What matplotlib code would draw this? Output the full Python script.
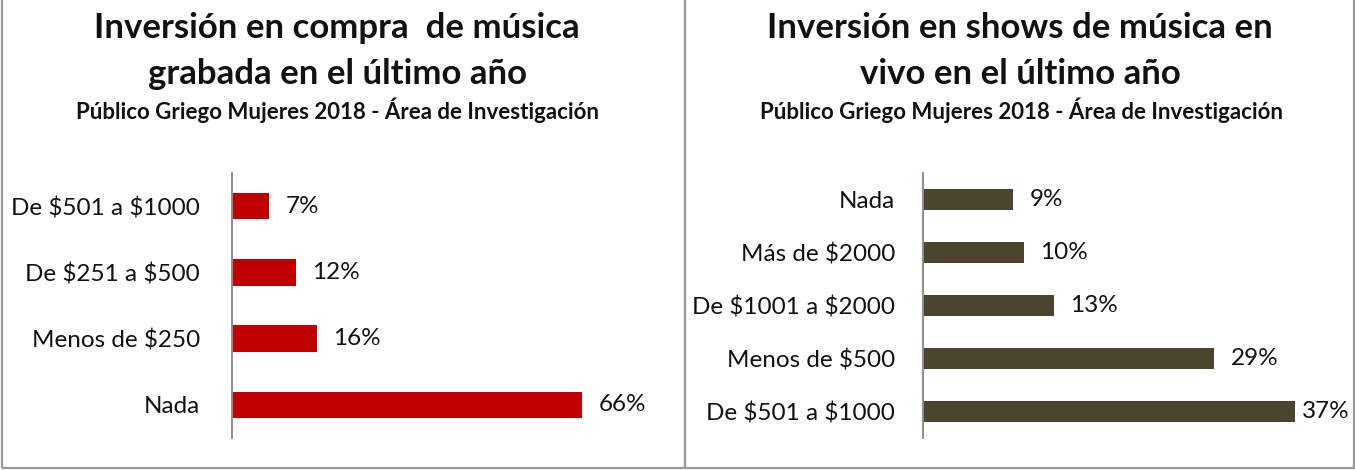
import matplotlib
matplotlib.use("Agg")
import matplotlib.pyplot as plt
from matplotlib.patches import Rectangle

# ---- data ----
left_categories = ["Nada", "Menos de $250", "De $251 a $500", "De $501 a $1000"]
left_values = [66, 16, 12, 7]
right_categories = ["De $501 a $1000", "Menos de $500", "De $1001 a $2000", "Más de $2000", "Nada"]
right_values = [37, 29, 13, 10, 9]

left_title = "Inversión en compra  de música\ngrabada en el último año"
right_title = "Inversión en shows de música en\nvivo en el último año"
subtitle = "Público Griego Mujeres 2018 - Área de Investigación"

LEFT_COLOR = "#C00000"
RIGHT_COLOR = "#4B442F"
FONT = ["Lato", "DejaVu Sans"]

W, H = 1355, 470
fig = plt.figure(figsize=(W / 100, H / 100), dpi=100)
plt.rcParams['font.family'] = FONT


def px_axes(x0, y_top, w, h):
    return fig.add_axes([x0 / W, (H - y_top - h) / H, w / W, h / H])


# panel borders
border_color = "#9A9A9A"
fig.add_artist(Rectangle((2 / W, 2 / H), (685 - 2) / W, (H + 10) / H, transform=fig.transFigure,
                         fill=False, edgecolor=border_color, linewidth=1.6))
fig.add_artist(Rectangle((685 / W, 2 / H), (1354 - 685) / W, (H + 10) / H, transform=fig.transFigure,
                         fill=False, edgecolor=border_color, linewidth=1.6))


def draw_panel(ax, cats, vals, color, bar_h, xmax, pad, long_offset=12):
    ys = list(range(len(cats)))
    ax.barh(ys, vals, height=bar_h, color=color, edgecolor="none")
    ax.set_ylim(-0.5, len(cats) - 0.5)
    ax.set_xlim(0, xmax)
    ax.set_yticks(ys)
    ax.set_yticklabels([c.replace("$", r"\$") for c in cats], fontsize=17.5, color="#111111")
    ax.tick_params(axis="y", length=0, pad=pad)
    ax.set_xticks([])
    for s in ["top", "right", "bottom"]:
        ax.spines[s].set_visible(False)
    ax.spines["left"].set_color("#8C8C8C")
    ax.spines["left"].set_linewidth(1.4)
    ax.patch.set_alpha(0)
    vmax = max(vals)
    for y, v in zip(ys, vals):
        off = long_offset if v == vmax else 12
        ax.annotate(f"{v}%", xy=(v, y), xytext=(off, 0), textcoords="offset points",
                    ha="left", va="center", fontsize=17.5, color="#111111")


# left panel
axL = px_axes(232, 173, 400, 265)
draw_panel(axL, left_categories, left_values, LEFT_COLOR, 0.4, 400 / 5.3, 23)

# right panel
axR = px_axes(923, 173, 400, 265)
draw_panel(axR, right_categories, right_values, RIGHT_COLOR, 0.4, 400 / 10.05, 20, long_offset=5)

# titles
fig.text(337 / W, 1 - 51 / H, left_title, ha="center", va="center", fontsize=25,
         fontweight="bold", linespacing=1.5, color="#111111")
fig.text(338 / W, 1 - 110 / H, subtitle, ha="center", va="center", fontsize=16,
         fontweight="bold", color="#111111")
fig.text(1020 / W, 1 - 51 / H, right_title, ha="center", va="center", fontsize=25,
         fontweight="bold", linespacing=1.5, color="#111111")
fig.text(1021 / W, 1 - 110 / H, subtitle, ha="center", va="center", fontsize=16,
         fontweight="bold", color="#111111")

fig.savefig("out.png", dpi=100, facecolor="white")
